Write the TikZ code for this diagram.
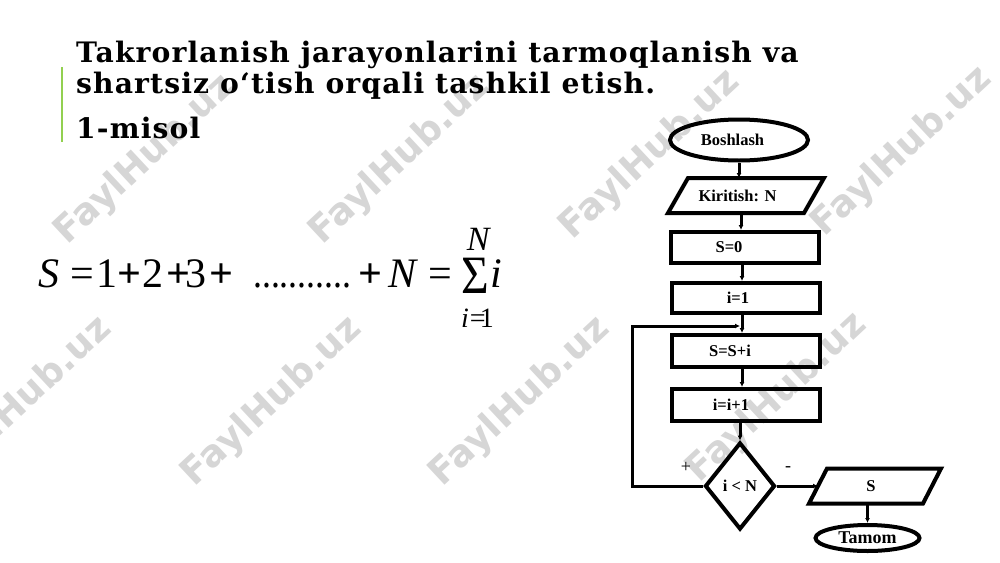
\documentclass[tikz,border=0pt]{standalone}
\usepackage{fontspec}
\usetikzlibrary{shapes.geometric,arrows.meta,calc}
\setmainfont{Liberation Serif}
\newfontfamily\titlefont[LetterSpace=4]{DejaVu Serif}
\newfontfamily\wmfont{DejaVu Sans}
\definecolor{wm}{RGB}{214,214,214}
\definecolor{bar}{RGB}{146,208,80}
\tikzset{
  wmark/.style={rotate=43, text=wm, font=\wmfont\bfseries\fontsize{37}{37}\selectfont, inner sep=0},
  ttl/.style={anchor=base west, inner sep=0, font=\titlefont\bfseries\fontsize{28.2}{28.2}\selectfont},
  fx/.style={anchor=base west, inner sep=0, font=\fontsize{42}{42}\selectfont},
  fplus/.style={anchor=base west, inner sep=0, font=\bfseries\fontsize{42}{42}\selectfont},
  fc/.style={font=\bfseries\fontsize{16.5}{16.5}\selectfont, line width=4pt, inner sep=0},
  proc/.style={fc, draw, rectangle, minimum width=148pt, minimum height=31pt},
  term/.style={fc, draw, ellipse},
  iotext/.style={fc, draw=none, rectangle},
  dec/.style={fc, draw, diamond},
  para/.style={line width=4pt},
  conn/.style={line width=3pt, -{Latex[length=5pt,width=5pt]}},
  lbl/.style={inner sep=0, font=\fontsize{18}{18}\selectfont}
}
\begin{document}
\begin{tikzpicture}[x=1pt,y=-1pt]
\useasboundingbox (0,0) rectangle (1000,562);
\fill[white] (0,0) rectangle (1000,562);
% watermarks
\foreach \wx/\wy [count=\k] in {145/160,400/160,650/155,902/152,22/402,272/402,520/402,777/398}
  \node[wmark] (wm\k) at (\wx,\wy) {FaylHub.uz};
% title
\draw[bar, line width=1.6pt] (62,67) -- (62,142);
\node[ttl] (t1) at (76,62) {Takrorlanish jarayonlarini tarmoqlanish va};
\node[ttl] (t2) at (76,93) {shartsiz o‘tish orqali tashkil etish.};
\node[ttl] (t3) at (76,138) {1-misol};
% formula
\node[fx] (fS) at (38,287) {\textit{S}};
\node[fx] (fe1) at (70,287) {=};
\node[fx] (f1) at (96,287) {1};
\node[fplus] (fp1) at (117,287) {+};
\node[fx] (f2) at (142,287) {2};
\node[fplus] (fp2) at (166,287) {+};
\node[fx] (f3) at (185,287) {3};
\node[fplus] (fp3) at (209,287) {+};
\node[fx] (fd) at (253,287) {\scalebox{0.85}[1]{...........}};
\node[fplus] (fp4) at (358,287) {+};
\node[fx] (fN) at (388,287) {\textit{N}};
\node[fx] (fe2) at (428,287) {=};
\node[anchor=base, inner sep=0, font=\fontsize{54}{54}\selectfont] (sig) at (475,293) {\scalebox{0.88}[1]{Σ}};
\node[fx] (fi) at (490,287) {\textit{i}};
\node[anchor=base, inner sep=0, font=\fontsize{34}{34}\selectfont] (sN) at (479,250) {\textit{N}};
\node[anchor=base west, inner sep=0, font=\fontsize{28}{28}\selectfont] (si) at (461,327) {\textit{i}\kern1pt=\kern-6pt1};
% flowchart
\node[term, minimum width=138pt, minimum height=41pt] (bosh) at (739,140) {Boshlash\kern13pt};
\node[iotext, minimum width=132pt, minimum height=31pt] (kir) at (746,195.5) {Kiritish: N\kern17pt};
\draw[para] ($(kir.north west)+(10,0)$) -- ($(kir.north east)+(10,0)$) -- ($(kir.south east)-(10,0)$) -- ($(kir.south west)-(10,0)$) -- cycle;
\node[proc] (s0) at (745,247.5) {S=0\kern32pt};
\node[proc, minimum height=30pt] (i1) at (746,298) {i=1\kern16pt};
\node[proc, minimum height=32pt] (ssi) at (746,351) {S=S+i\kern32pt};
\node[proc, minimum height=32pt] (ii1) at (746,405) {i=i+1\kern30pt};
\node[dec, minimum width=70pt, minimum height=87pt] (dia) at (740,486) {i < N};
\node[iotext, minimum width=110pt, minimum height=31pt] (sout) at (875,486) {S\kern8pt};
\draw[para] ($(sout.north west)+(9,0)$) -- ($(sout.north east)+(9,0)$) -- ($(sout.south east)-(9,0)$) -- ($(sout.south west)-(9,0)$) -- cycle;
\node[term, minimum width=104pt, minimum height=26pt, font=\bfseries\fontsize{18}{18}\selectfont] (tam) at (867.5,538) {Tamom};
% connectors
\draw[conn] (bosh) -- (bosh |- kir.north);
\draw[conn] ([xshift=-5pt]kir.south) -- ([xshift=-5pt]kir.south |- s0.north);
\draw[conn] ([xshift=-3pt]s0.south) -- ([xshift=-3pt]s0.south |- i1.north);
\draw[conn] ([xshift=-4pt]i1.south) -- ([xshift=-4pt]i1.south |- ssi.north);
\draw[conn] ([xshift=-4pt]ssi.south) -- ([xshift=-4pt]ssi.south |- ii1.north);
\draw[conn] ([xshift=-6pt]ii1.south) -- (dia.north);
\coordinate (lpL) at (632,486);
\coordinate (lpT) at (632,326);
\coordinate (lpE) at (740,326);
\draw[conn] (dia.west) -- (lpL) -- (lpT) -- (lpE);
\draw[conn] (dia.east) -- (sout.west);
\draw[conn] (tam.north |- sout.south) -- (tam.north);
\node[lbl] (plus) at (686,467) {+};
\node[lbl] (minus) at (788,469) {-};
\end{tikzpicture}
\end{document}
